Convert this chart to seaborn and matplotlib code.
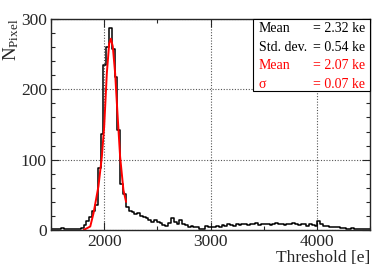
import numpy as np
import pandas as pd
import matplotlib
matplotlib.use("Agg")
import matplotlib.pyplot as plt
from matplotlib.ticker import MultipleLocator
import seaborn as sns

# histogram of thresholds (bin width 26.5 e, first edge at 1488.5 e)
bin_start = 1488.5
bin_width = 26.5
counts = [1, 2, 2, 1, 3, 1, 1, 2, 2, 2, 2, 3,
          7, 13, 19, 27, 35, 88, 136, 235, 260, 287, 258, 218, 142, 66,
          51, 33, 27, 26, 23, 24, 20, 19, 17, 14, 12, 14, 12, 10, 7, 6,
          10, 17, 12, 8, 14, 9, 7, 5, 6, 4, 5, 2, 1, 6, 4, 5,
          5, 6, 5, 7, 6, 8, 7, 6, 8, 7, 9, 8, 7, 9, 8, 10, 7, 8,
          9, 8, 7, 9, 10, 8, 9, 7, 9, 8, 10, 9, 7, 8, 9, 6, 8, 7, 6,
          13, 8,
          6, 6, 5, 5, 4, 4, 3, 3, 2, 2, 3, 2, 1, 1, 2, 1, 1]

# gaussian fit curve
fit_x = [1806, 1869, 1900, 1946, 1978, 2000, 2025, 2047, 2063, 2081,
         2103, 2125, 2150, 2181, 2206]
fit_y = [0, 5, 24, 62, 104, 147, 223, 265, 272, 261, 223, 166, 104, 57, 40]

stats_names = ["Mean", "Std. dev.", "Mean", "\u03c3"]
stats_values = ["= 2.32 ke", "= 0.54 ke", "= 2.07 ke", "= 0.07 ke"]
stats_colors = ["black", "black", "red", "red"]

edges = [bin_start + bin_width * i for i in range(len(counts) + 1)]
hist_df = pd.DataFrame({"threshold": [e + bin_width / 2 for e in edges[:-1]],
                        "n": counts})

sns.set_style("ticks")
plt.rcParams["font.family"] = ["Liberation Serif", "DejaVu Serif"]
plt.rcParams["mathtext.fontset"] = "custom"
plt.rcParams["mathtext.rm"] = "Liberation Serif"
plt.rcParams["mathtext.it"] = "Liberation Serif:italic"

fig = plt.figure(figsize=(3.9, 2.65), dpi=100)
ax = fig.add_axes([0.1308, 0.132, 0.8179, 0.7963])

ax.grid(True, color="#555555", linestyle=(0, (1, 1.5)), linewidth=0.8)
ax.set_axisbelow(True)

sns.histplot(data=hist_df, x="threshold", weights="n", bins=edges,
             element="step", fill=False, color="black", linewidth=1.1, ax=ax)
sns.lineplot(x=fit_x, y=fit_y, color="red", linewidth=1.4, ax=ax)

ax.set_xlim(1500, 4500)
ax.set_ylim(0, 300)
ax.xaxis.set_major_locator(MultipleLocator(1000))
ax.xaxis.set_minor_locator(MultipleLocator(500))
ax.yaxis.set_major_locator(MultipleLocator(100))
ax.yaxis.set_minor_locator(MultipleLocator(20))
ax.tick_params(which="both", direction="in", top=True, right=True,
               labelsize=12.5, pad=3, width=0.8)
ax.tick_params(which="major", length=6)
ax.tick_params(which="minor", length=3)
for s in ax.spines.values():
    s.set_linewidth(1.0)

ax.set_xlabel("Threshold [e]", loc="right", fontsize=12.5, labelpad=0)
ax.set_ylabel(r"$\mathrm{N}_{\mathrm{Pixel}}$", loc="top", fontsize=13.5, labelpad=0)

# stats box
box = plt.Rectangle((0.633, 0.659), 0.367, 0.341, transform=ax.transAxes,
                    facecolor="white", edgecolor="black", linewidth=0.8,
                    zorder=5, clip_on=False)
ax.add_patch(box)
for i in range(4):
    y = 0.953 - i * 0.0875
    ax.text(0.652, y, stats_names[i], transform=ax.transAxes, fontsize=10,
            color=stats_colors[i], va="center", ha="left", zorder=6)
    ax.text(0.984, y, stats_values[i], transform=ax.transAxes, fontsize=10,
            color=stats_colors[i], va="center", ha="right", zorder=6)

fig.savefig("out.png", dpi=100)
